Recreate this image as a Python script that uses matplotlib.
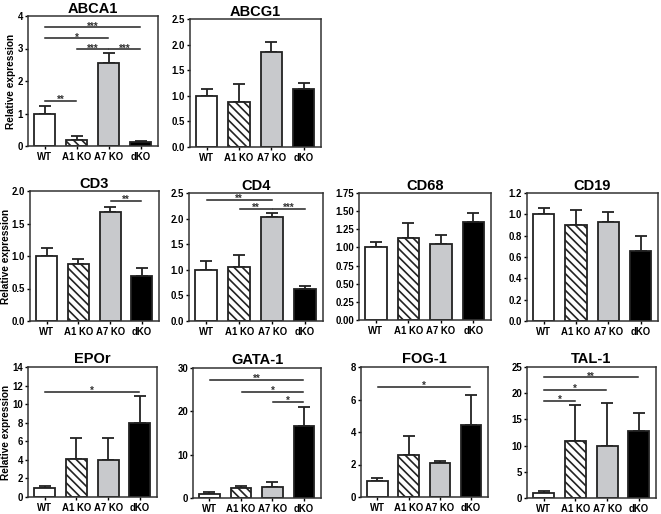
import matplotlib
matplotlib.use("Agg")
import matplotlib.pyplot as plt

plt.rcParams['font.family'] = ['Liberation Sans', 'DejaVu Sans']
plt.rcParams['font.weight'] = 'bold'
plt.rcParams['hatch.linewidth'] = 1.2

groups = ["WT", "A1 KO", "A7 KO", "dKO"]

abca1_mean = [1.0, 0.17, 2.55, 0.13]
abca1_err = [0.22, 0.15, 0.30, 0.03]
abcg1_mean = [1.0, 0.88, 1.86, 1.14]
abcg1_err = [0.13, 0.36, 0.19, 0.11]
cd3_mean = [1.0, 0.88, 1.67, 0.69]
cd3_err = [0.12, 0.08, 0.09, 0.12]
cd4_mean = [1.0, 1.06, 2.04, 0.63]
cd4_err = [0.17, 0.22, 0.07, 0.06]
cd68_mean = [1.0, 1.13, 1.05, 1.35]
cd68_err = [0.08, 0.20, 0.12, 0.12]
cd19_mean = [1.0, 0.90, 0.93, 0.66]
cd19_err = [0.06, 0.14, 0.09, 0.14]
epor_mean = [1.0, 4.05, 3.95, 8.0]
epor_err = [0.2, 2.3, 2.4, 2.85]
gata1_mean = [1.0, 2.4, 2.6, 16.6]
gata1_err = [0.3, 0.3, 1.2, 4.5]
fog1_mean = [1.0, 2.6, 2.1, 4.45]
fog1_err = [0.18, 1.15, 0.12, 1.85]
tal1_mean = [1.0, 10.8, 10.0, 12.8]
tal1_err = [0.3, 6.9, 8.2, 3.5]

# significance brackets: (from, to, height, label)
abca1_sig = [(0, 1, 1.39, "**"), (1, 2, 2.97, "***"), (2, 3, 2.97, "***"),
             (0, 2, 3.31, "*"), (0, 3, 3.65, "***")]
cd3_sig = [(2, 3, 1.85, "**")]
cd4_sig = [(0, 2, 2.37, "**"), (1, 2, 2.19, "**"), (2, 3, 2.19, "***")]
epor_sig = [(0, 3, 11.3, "*")]
gata1_sig = [(0, 3, 27.3, "**"), (1, 3, 24.5, "*"), (2, 3, 22.2, "*")]
fog1_sig = [(0, 3, 6.8, "*")]
tal1_sig = [(0, 1, 18.6, "*"), (0, 2, 20.7, "*"), (0, 3, 23.0, "**")]

W, H = 661, 514
fig = plt.figure(figsize=(W / 100, H / 100), dpi=100)


def panel(box, title, mean, err, ymax, ystep, fmt, sig=(), ylab_x=None,
          tpad=1.5):
    l, t, r, b = box
    ax = fig.add_axes([l / W, 1 - b / H, (r - l) / W, (b - t) / H])
    x = range(4)
    fills = ["white", "white", "#c8c9cc", "black"]
    hatches = [None, "\\\\\\\\", None, None]
    ax.errorbar(x, mean, yerr=[[0] * 4, err], fmt="none", ecolor="#222222",
                elinewidth=1.3, capsize=4.3, capthick=1.3, zorder=1)
    for i in x:
        ax.bar(i, mean[i], width=0.66, color=fills[i], edgecolor="#222222",
               linewidth=1.3, hatch=hatches[i], zorder=2)
    for i, j, y, lab in sig:
        ax.plot([i + 0.02, j - 0.02], [y, y], color="#222222", lw=1.1, zorder=3)
        ax.annotate(lab, ((i + j) / 2, y), xytext=(0, -1.5),
                    textcoords="offset points", ha="center", va="baseline",
                    fontsize=7, color="#333333")
    ax.set_xlim(-0.52, 3.54)
    ax.set_ylim(0, ymax)
    ticks = [k * ystep for k in range(int(round(ymax / ystep)) + 1)]
    ax.set_yticks(ticks)
    ax.set_yticklabels([fmt.format(v) for v in ticks])
    ax.set_xticks(list(x))
    ax.set_xticklabels(groups)
    ax.tick_params(axis="x", length=2.5, width=1, labelsize=6.9, pad=2)
    ax.tick_params(axis="y", length=2.5, width=1, labelsize=6.9, pad=1)
    for s in ax.spines.values():
        s.set_linewidth(1.1)
        s.set_color("#333333")
    ax.set_title(title, fontsize=10.5, fontweight="bold", pad=tpad)
    if ylab_x is not None:
        ax.set_ylabel("Relative expression", fontsize=7.3, fontweight="bold")
        ax.yaxis.set_label_coords((ylab_x - l) / (r - l), 0.5)
    return ax


panel((28, 16, 158, 146), "ABCA1", abca1_mean, abca1_err, 4, 1, "{:.0f}",
      abca1_sig, ylab_x=16, tpad=1)
panel((190, 19, 321, 147), "ABCG1", abcg1_mean, abcg1_err, 2.5, 0.5, "{:.1f}",
      tpad=2)
panel((30, 191, 159, 321), "CD3", cd3_mean, cd3_err, 2.0, 0.5, "{:.1f}",
      cd3_sig, ylab_x=11)
panel((189, 193, 323, 321), "CD4", cd4_mean, cd4_err, 2.5, 0.5, "{:.1f}",
      cd4_sig, tpad=2)
panel((359, 193, 491, 320), "CD68", cd68_mean, cd68_err, 1.75, 0.25, "{:.2f}",
      tpad=2)
panel((527, 193, 658, 321), "CD19", cd19_mean, cd19_err, 1.2, 0.2, "{:.1f}",
      tpad=2)
panel((28, 367, 157, 497), "EPOr", epor_mean, epor_err, 14, 2, "{:.0f}",
      epor_sig, ylab_x=11, tpad=3)
panel((193, 368, 321, 498), "GATA-1", gata1_mean, gata1_err, 30, 10, "{:.0f}",
      gata1_sig, tpad=3)
panel((361, 367, 488, 497), "FOG-1", fog1_mean, fog1_err, 8, 2, "{:.0f}",
      fog1_sig, tpad=3)
panel((527, 367, 656, 498), "TAL-1", tal1_mean, tal1_err, 25, 5, "{:.0f}",
      tal1_sig, tpad=3)

fig.savefig("out.png", dpi=100)
